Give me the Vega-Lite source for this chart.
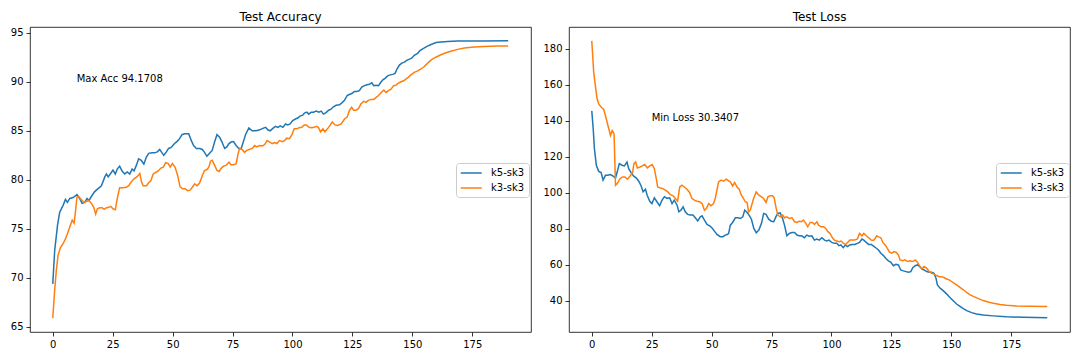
{
"$schema": "https://vega.github.io/schema/vega-lite/v6.json",
"background": "white",
"padding": {"left": 3, "top": 10, "right": 5, "bottom": 5},
"spacing": 10,
"datasets": {
"acc": [
{"s":"k5-sk3","e":0,"v":69.4},{"s":"k5-sk3","e":0.8,"v":72.8},{"s":"k5-sk3","e":2,"v":75.4},{"s":"k5-sk3","e":2.9,"v":76.7},{"s":"k5-sk3","e":4.3,"v":77.4},{"s":"k5-sk3","e":5.3,"v":78.0},{"s":"k5-sk3","e":6.1,"v":77.7},{"s":"k5-sk3","e":7.1,"v":78.1},{"s":"k5-sk3","e":8.5,"v":78.2},{"s":"k5-sk3","e":10.1,"v":78.5},{"s":"k5-sk3","e":11.2,"v":78.1},{"s":"k5-sk3","e":12.2,"v":77.6},{"s":"k5-sk3","e":13.3,"v":77.7},{"s":"k5-sk3","e":14.3,"v":78.1},{"s":"k5-sk3","e":15.1,"v":77.9},{"s":"k5-sk3","e":16.1,"v":78.3},{"s":"k5-sk3","e":17.5,"v":78.8},{"s":"k5-sk3","e":18.9,"v":79.1},{"s":"k5-sk3","e":20.3,"v":79.4},{"s":"k5-sk3","e":21.7,"v":80.3},{"s":"k5-sk3","e":22.4,"v":80.6},{"s":"k5-sk3","e":23.1,"v":80.3},{"s":"k5-sk3","e":24,"v":80.6},{"s":"k5-sk3","e":25.1,"v":81.0},{"s":"k5-sk3","e":26.1,"v":80.6},{"s":"k5-sk3","e":26.9,"v":81.1},{"s":"k5-sk3","e":27.9,"v":81.4},{"s":"k5-sk3","e":28.9,"v":80.9},{"s":"k5-sk3","e":30,"v":80.6},{"s":"k5-sk3","e":31.1,"v":80.8},{"s":"k5-sk3","e":32.1,"v":80.6},{"s":"k5-sk3","e":33.1,"v":81.1},{"s":"k5-sk3","e":33.9,"v":80.9},{"s":"k5-sk3","e":34.9,"v":81.5},{"s":"k5-sk3","e":35.8,"v":82.15},{"s":"k5-sk3","e":36.9,"v":82.0},{"s":"k5-sk3","e":38,"v":81.6},{"s":"k5-sk3","e":39,"v":82.3},{"s":"k5-sk3","e":40,"v":82.7},{"s":"k5-sk3","e":41.4,"v":82.75},{"s":"k5-sk3","e":42.5,"v":82.75},{"s":"k5-sk3","e":43.6,"v":82.85},{"s":"k5-sk3","e":44.6,"v":83.1},{"s":"k5-sk3","e":45.3,"v":82.85},{"s":"k5-sk3","e":46.3,"v":82.5},{"s":"k5-sk3","e":47.4,"v":82.85},{"s":"k5-sk3","e":48.3,"v":83.2},{"s":"k5-sk3","e":49.4,"v":83.3},{"s":"k5-sk3","e":50.8,"v":83.7},{"s":"k5-sk3","e":52,"v":83.95},{"s":"k5-sk3","e":52.9,"v":84.2},{"s":"k5-sk3","e":53.9,"v":84.6},{"s":"k5-sk3","e":55,"v":84.7},{"s":"k5-sk3","e":56.7,"v":84.7},{"s":"k5-sk3","e":57.8,"v":84.0},{"s":"k5-sk3","e":58.75,"v":83.5},{"s":"k5-sk3","e":59.9,"v":83.2},{"s":"k5-sk3","e":61.3,"v":83.2},{"s":"k5-sk3","e":62.4,"v":83.1},{"s":"k5-sk3","e":63.3,"v":82.8},{"s":"k5-sk3","e":64.3,"v":82.4},{"s":"k5-sk3","e":65.4,"v":82.7},{"s":"k5-sk3","e":66.5,"v":83.0},{"s":"k5-sk3","e":67.5,"v":83.85},{"s":"k5-sk3","e":68.5,"v":84.6},{"s":"k5-sk3","e":69.6,"v":84.35},{"s":"k5-sk3","e":70.6,"v":83.85},{"s":"k5-sk3","e":71.7,"v":83.2},{"s":"k5-sk3","e":72.6,"v":83.35},{"s":"k5-sk3","e":73.5,"v":83.7},{"s":"k5-sk3","e":74.4,"v":83.85},{"s":"k5-sk3","e":75.4,"v":83.9},{"s":"k5-sk3","e":76.5,"v":83.5},{"s":"k5-sk3","e":77.6,"v":83.2},{"s":"k5-sk3","e":78.6,"v":83.2},{"s":"k5-sk3","e":79.6,"v":83.95},{"s":"k5-sk3","e":80.4,"v":84.6},{"s":"k5-sk3","e":81.8,"v":85.3},{"s":"k5-sk3","e":83.2,"v":85.0},{"s":"k5-sk3","e":84.9,"v":85.0},{"s":"k5-sk3","e":86.3,"v":85.1},{"s":"k5-sk3","e":87.6,"v":85.25},{"s":"k5-sk3","e":88.8,"v":85.35},{"s":"k5-sk3","e":89.7,"v":85.1},{"s":"k5-sk3","e":90.7,"v":85.0},{"s":"k5-sk3","e":91.8,"v":85.25},{"s":"k5-sk3","e":92.9,"v":85.45},{"s":"k5-sk3","e":93.9,"v":85.35},{"s":"k5-sk3","e":94.9,"v":85.5},{"s":"k5-sk3","e":96,"v":85.35},{"s":"k5-sk3","e":97.1,"v":85.7},{"s":"k5-sk3","e":98,"v":85.6},{"s":"k5-sk3","e":99,"v":85.7},{"s":"k5-sk3","e":100.1,"v":86.05},{"s":"k5-sk3","e":101.2,"v":86.2},{"s":"k5-sk3","e":102.2,"v":86.3},{"s":"k5-sk3","e":103.1,"v":86.5},{"s":"k5-sk3","e":104.3,"v":86.6},{"s":"k5-sk3","e":105,"v":86.8},{"s":"k5-sk3","e":106,"v":86.9},{"s":"k5-sk3","e":106.8,"v":86.7},{"s":"k5-sk3","e":107.8,"v":86.9},{"s":"k5-sk3","e":108.8,"v":86.9},{"s":"k5-sk3","e":109.9,"v":87.0},{"s":"k5-sk3","e":111,"v":86.9},{"s":"k5-sk3","e":112,"v":87.0},{"s":"k5-sk3","e":112.9,"v":86.7},{"s":"k5-sk3","e":114,"v":86.85},{"s":"k5-sk3","e":115.1,"v":87.1},{"s":"k5-sk3","e":116.1,"v":87.2},{"s":"k5-sk3","e":117.1,"v":87.45},{"s":"k5-sk3","e":118.2,"v":87.6},{"s":"k5-sk3","e":119.6,"v":87.65},{"s":"k5-sk3","e":120.6,"v":87.85},{"s":"k5-sk3","e":121.7,"v":88.1},{"s":"k5-sk3","e":122.8,"v":88.6},{"s":"k5-sk3","e":123.7,"v":88.7},{"s":"k5-sk3","e":124.7,"v":88.8},{"s":"k5-sk3","e":125.8,"v":89.0},{"s":"k5-sk3","e":126.9,"v":89.0},{"s":"k5-sk3","e":127.9,"v":89.1},{"s":"k5-sk3","e":128.9,"v":89.45},{"s":"k5-sk3","e":130,"v":89.6},{"s":"k5-sk3","e":131.1,"v":89.7},{"s":"k5-sk3","e":132.1,"v":89.75},{"s":"k5-sk3","e":133.1,"v":89.9},{"s":"k5-sk3","e":133.9,"v":89.6},{"s":"k5-sk3","e":134.9,"v":89.65},{"s":"k5-sk3","e":135.9,"v":89.6},{"s":"k5-sk3","e":136.7,"v":89.9},{"s":"k5-sk3","e":137.7,"v":90.2},{"s":"k5-sk3","e":138.6,"v":90.35},{"s":"k5-sk3","e":139.7,"v":90.6},{"s":"k5-sk3","e":140.8,"v":90.7},{"s":"k5-sk3","e":141.8,"v":90.75},{"s":"k5-sk3","e":142.8,"v":90.85},{"s":"k5-sk3","e":143.6,"v":91.3},{"s":"k5-sk3","e":144.6,"v":91.7},{"s":"k5-sk3","e":145.6,"v":91.9},{"s":"k5-sk3","e":146.7,"v":92.0},{"s":"k5-sk3","e":147.8,"v":92.2},{"s":"k5-sk3","e":148.8,"v":92.3},{"s":"k5-sk3","e":149.7,"v":92.4},{"s":"k5-sk3","e":150.8,"v":92.7},{"s":"k5-sk3","e":152.2,"v":92.9},{"s":"k5-sk3","e":153.3,"v":93.2},{"s":"k5-sk3","e":154.7,"v":93.4},{"s":"k5-sk3","e":156.1,"v":93.6},{"s":"k5-sk3","e":157.8,"v":93.8},{"s":"k5-sk3","e":159.9,"v":94.0},{"s":"k5-sk3","e":162,"v":94.05},{"s":"k5-sk3","e":164.7,"v":94.1},{"s":"k5-sk3","e":168.9,"v":94.15},{"s":"k5-sk3","e":173,"v":94.15},{"s":"k5-sk3","e":180,"v":94.15},{"s":"k5-sk3","e":190,"v":94.17},
{"s":"k3-sk3","e":0,"v":65.9},{"s":"k3-sk3","e":0.8,"v":68.8},{"s":"k3-sk3","e":1.5,"v":70.8},{"s":"k3-sk3","e":2.2,"v":72.3},{"s":"k3-sk3","e":3.2,"v":73.1},{"s":"k3-sk3","e":4.3,"v":73.5},{"s":"k3-sk3","e":5.3,"v":74.0},{"s":"k3-sk3","e":6.1,"v":74.5},{"s":"k3-sk3","e":7.1,"v":75.2},{"s":"k3-sk3","e":8.1,"v":75.9},{"s":"k3-sk3","e":8.9,"v":75.6},{"s":"k3-sk3","e":9.4,"v":76.6},{"s":"k3-sk3","e":10.1,"v":78.25},{"s":"k3-sk3","e":10.8,"v":78.3},{"s":"k3-sk3","e":11.9,"v":78.0},{"s":"k3-sk3","e":13.1,"v":77.7},{"s":"k3-sk3","e":14,"v":77.8},{"s":"k3-sk3","e":15.1,"v":77.9},{"s":"k3-sk3","e":16.1,"v":77.6},{"s":"k3-sk3","e":17.1,"v":77.2},{"s":"k3-sk3","e":17.9,"v":76.5},{"s":"k3-sk3","e":18.6,"v":77.05},{"s":"k3-sk3","e":19.6,"v":77.15},{"s":"k3-sk3","e":20.6,"v":77.15},{"s":"k3-sk3","e":21.4,"v":77.0},{"s":"k3-sk3","e":22.4,"v":77.15},{"s":"k3-sk3","e":23.4,"v":77.2},{"s":"k3-sk3","e":24.2,"v":77.3},{"s":"k3-sk3","e":25.1,"v":77.05},{"s":"k3-sk3","e":26.1,"v":76.95},{"s":"k3-sk3","e":26.9,"v":78.1},{"s":"k3-sk3","e":27.9,"v":79.2},{"s":"k3-sk3","e":29.3,"v":79.2},{"s":"k3-sk3","e":30.7,"v":79.25},{"s":"k3-sk3","e":31.7,"v":79.4},{"s":"k3-sk3","e":32.8,"v":79.8},{"s":"k3-sk3","e":33.9,"v":80.1},{"s":"k3-sk3","e":35.3,"v":80.35},{"s":"k3-sk3","e":36.3,"v":80.65},{"s":"k3-sk3","e":37,"v":79.8},{"s":"k3-sk3","e":37.7,"v":79.4},{"s":"k3-sk3","e":39.1,"v":79.4},{"s":"k3-sk3","e":40,"v":79.7},{"s":"k3-sk3","e":40.9,"v":79.9},{"s":"k3-sk3","e":41.9,"v":80.6},{"s":"k3-sk3","e":42.9,"v":80.75},{"s":"k3-sk3","e":44,"v":80.9},{"s":"k3-sk3","e":45.1,"v":81.2},{"s":"k3-sk3","e":46.1,"v":81.3},{"s":"k3-sk3","e":47.1,"v":81.75},{"s":"k3-sk3","e":48.2,"v":81.65},{"s":"k3-sk3","e":49,"v":81.3},{"s":"k3-sk3","e":49.9,"v":81.65},{"s":"k3-sk3","e":51,"v":81.3},{"s":"k3-sk3","e":52.1,"v":80.45},{"s":"k3-sk3","e":53.1,"v":79.3},{"s":"k3-sk3","e":54.1,"v":79.1},{"s":"k3-sk3","e":55.2,"v":79.1},{"s":"k3-sk3","e":56.3,"v":78.9},{"s":"k3-sk3","e":57.3,"v":78.95},{"s":"k3-sk3","e":58.2,"v":79.25},{"s":"k3-sk3","e":59.2,"v":79.6},{"s":"k3-sk3","e":60.2,"v":79.4},{"s":"k3-sk3","e":61.3,"v":79.7},{"s":"k3-sk3","e":62.4,"v":80.45},{"s":"k3-sk3","e":63.3,"v":80.95},{"s":"k3-sk3","e":64.3,"v":81.05},{"s":"k3-sk3","e":65.1,"v":81.3},{"s":"k3-sk3","e":65.8,"v":81.9},{"s":"k3-sk3","e":66.5,"v":82.0},{"s":"k3-sk3","e":67.5,"v":81.5},{"s":"k3-sk3","e":68.5,"v":80.95},{"s":"k3-sk3","e":69.4,"v":80.85},{"s":"k3-sk3","e":70.3,"v":81.2},{"s":"k3-sk3","e":71.3,"v":81.4},{"s":"k3-sk3","e":72.4,"v":81.5},{"s":"k3-sk3","e":73.5,"v":81.8},{"s":"k3-sk3","e":74.4,"v":81.55},{"s":"k3-sk3","e":75.4,"v":81.55},{"s":"k3-sk3","e":76.5,"v":81.65},{"s":"k3-sk3","e":77.3,"v":82.65},{"s":"k3-sk3","e":77.9,"v":83.2},{"s":"k3-sk3","e":79,"v":83.1},{"s":"k3-sk3","e":80,"v":82.8},{"s":"k3-sk3","e":80.9,"v":83.0},{"s":"k3-sk3","e":82,"v":83.1},{"s":"k3-sk3","e":83.2,"v":83.2},{"s":"k3-sk3","e":84.2,"v":83.5},{"s":"k3-sk3","e":85.1,"v":83.35},{"s":"k3-sk3","e":86.3,"v":83.5},{"s":"k3-sk3","e":87.4,"v":83.45},{"s":"k3-sk3","e":88.4,"v":83.6},{"s":"k3-sk3","e":89.4,"v":84.0},{"s":"k3-sk3","e":90.5,"v":83.85},{"s":"k3-sk3","e":91.6,"v":83.7},{"s":"k3-sk3","e":92.5,"v":83.8},{"s":"k3-sk3","e":93.5,"v":83.7},{"s":"k3-sk3","e":94.6,"v":84.0},{"s":"k3-sk3","e":95.7,"v":83.9},{"s":"k3-sk3","e":96.7,"v":84.0},{"s":"k3-sk3","e":97.6,"v":84.25},{"s":"k3-sk3","e":98.7,"v":84.2},{"s":"k3-sk3","e":99.8,"v":84.6},{"s":"k3-sk3","e":100.7,"v":85.2},{"s":"k3-sk3","e":101.7,"v":85.2},{"s":"k3-sk3","e":102.8,"v":85.3},{"s":"k3-sk3","e":103.9,"v":85.35},{"s":"k3-sk3","e":104.9,"v":85.6},{"s":"k3-sk3","e":105.8,"v":85.6},{"s":"k3-sk3","e":106.9,"v":85.35},{"s":"k3-sk3","e":108,"v":85.3},{"s":"k3-sk3","e":109,"v":85.35},{"s":"k3-sk3","e":110,"v":85.45},{"s":"k3-sk3","e":110.8,"v":85.35},{"s":"k3-sk3","e":111.7,"v":84.9},{"s":"k3-sk3","e":112.7,"v":85.2},{"s":"k3-sk3","e":113.5,"v":84.9},{"s":"k3-sk3","e":114.6,"v":85.2},{"s":"k3-sk3","e":115.5,"v":85.5},{"s":"k3-sk3","e":116.6,"v":85.9},{"s":"k3-sk3","e":117.7,"v":85.6},{"s":"k3-sk3","e":118.9,"v":85.55},{"s":"k3-sk3","e":120.3,"v":85.7},{"s":"k3-sk3","e":121.7,"v":86.2},{"s":"k3-sk3","e":122.8,"v":86.4},{"s":"k3-sk3","e":123.8,"v":87.1},{"s":"k3-sk3","e":124.7,"v":87.4},{"s":"k3-sk3","e":125.5,"v":87.1},{"s":"k3-sk3","e":126.5,"v":87.1},{"s":"k3-sk3","e":127.5,"v":87.25},{"s":"k3-sk3","e":128.6,"v":87.75},{"s":"k3-sk3","e":129.7,"v":88.0},{"s":"k3-sk3","e":130.7,"v":87.9},{"s":"k3-sk3","e":131.6,"v":88.1},{"s":"k3-sk3","e":132.8,"v":88.2},{"s":"k3-sk3","e":133.9,"v":88.2},{"s":"k3-sk3","e":134.9,"v":88.4},{"s":"k3-sk3","e":135.9,"v":88.6},{"s":"k3-sk3","e":137,"v":88.9},{"s":"k3-sk3","e":138.1,"v":89.15},{"s":"k3-sk3","e":139,"v":88.9},{"s":"k3-sk3","e":140,"v":89.1},{"s":"k3-sk3","e":141.1,"v":89.25},{"s":"k3-sk3","e":142.2,"v":89.6},{"s":"k3-sk3","e":143.2,"v":89.65},{"s":"k3-sk3","e":144.2,"v":89.85},{"s":"k3-sk3","e":145.3,"v":90.0},{"s":"k3-sk3","e":146.4,"v":90.1},{"s":"k3-sk3","e":147.4,"v":90.3},{"s":"k3-sk3","e":148.3,"v":90.45},{"s":"k3-sk3","e":149.4,"v":90.7},{"s":"k3-sk3","e":150.8,"v":90.95},{"s":"k3-sk3","e":152.2,"v":91.1},{"s":"k3-sk3","e":153.6,"v":91.3},{"s":"k3-sk3","e":155,"v":91.55},{"s":"k3-sk3","e":156.4,"v":91.9},{"s":"k3-sk3","e":158,"v":92.25},{"s":"k3-sk3","e":159.8,"v":92.5},{"s":"k3-sk3","e":161.9,"v":92.75},{"s":"k3-sk3","e":164,"v":92.95},{"s":"k3-sk3","e":166,"v":93.1},{"s":"k3-sk3","e":168.9,"v":93.3},{"s":"k3-sk3","e":171.7,"v":93.45},{"s":"k3-sk3","e":175.8,"v":93.55},{"s":"k3-sk3","e":180,"v":93.6},{"s":"k3-sk3","e":185.6,"v":93.65},{"s":"k3-sk3","e":190,"v":93.65}
],
"loss": [
{"s":"k5-sk3","e":0,"v":145.5},{"s":"k5-sk3","e":0.6,"v":135.6},{"s":"k5-sk3","e":1.1,"v":124.5},{"s":"k5-sk3","e":1.9,"v":115.3},{"s":"k5-sk3","e":2.9,"v":111.9},{"s":"k5-sk3","e":3.9,"v":111.2},{"s":"k5-sk3","e":4.7,"v":107.0},{"s":"k5-sk3","e":5.7,"v":109.7},{"s":"k5-sk3","e":6.7,"v":109.7},{"s":"k5-sk3","e":7.8,"v":110.1},{"s":"k5-sk3","e":8.9,"v":109.2},{"s":"k5-sk3","e":9.9,"v":108.2},{"s":"k5-sk3","e":10.6,"v":111.5},{"s":"k5-sk3","e":11.5,"v":116.2},{"s":"k5-sk3","e":12.6,"v":115.3},{"s":"k5-sk3","e":13.6,"v":114.9},{"s":"k5-sk3","e":14.7,"v":117.1},{"s":"k5-sk3","e":15.4,"v":113.4},{"s":"k5-sk3","e":16.4,"v":111.2},{"s":"k5-sk3","e":17.5,"v":109.2},{"s":"k5-sk3","e":18.6,"v":108.2},{"s":"k5-sk3","e":19.6,"v":106.4},{"s":"k5-sk3","e":20.6,"v":103.8},{"s":"k5-sk3","e":21.4,"v":100.5},{"s":"k5-sk3","e":22.4,"v":102.0},{"s":"k5-sk3","e":23.1,"v":98.65},{"s":"k5-sk3","e":24.2,"v":95.3},{"s":"k5-sk3","e":25.1,"v":94.0},{"s":"k5-sk3","e":26.1,"v":97.2},{"s":"k5-sk3","e":27.2,"v":95.0},{"s":"k5-sk3","e":28.3,"v":92.8},{"s":"k5-sk3","e":29.3,"v":95.9},{"s":"k5-sk3","e":30.3,"v":97.8},{"s":"k5-sk3","e":31.4,"v":96.9},{"s":"k5-sk3","e":32.5,"v":97.2},{"s":"k5-sk3","e":33.5,"v":94.0},{"s":"k5-sk3","e":34.4,"v":95.9},{"s":"k5-sk3","e":35.6,"v":93.1},{"s":"k5-sk3","e":36.3,"v":89.4},{"s":"k5-sk3","e":37.2,"v":90.3},{"s":"k5-sk3","e":38.1,"v":92.2},{"s":"k5-sk3","e":39,"v":89.4},{"s":"k5-sk3","e":40,"v":88.0},{"s":"k5-sk3","e":41.1,"v":87.6},{"s":"k5-sk3","e":42.2,"v":87.6},{"s":"k5-sk3","e":43.2,"v":86.1},{"s":"k5-sk3","e":44.2,"v":84.3},{"s":"k5-sk3","e":45.3,"v":86.6},{"s":"k5-sk3","e":46,"v":87.2},{"s":"k5-sk3","e":47,"v":84.8},{"s":"k5-sk3","e":48.1,"v":82.4},{"s":"k5-sk3","e":49.2,"v":81.6},{"s":"k5-sk3","e":50.1,"v":80.6},{"s":"k5-sk3","e":51.1,"v":78.8},{"s":"k5-sk3","e":52.2,"v":76.9},{"s":"k5-sk3","e":53.6,"v":75.6},{"s":"k5-sk3","e":54.7,"v":75.6},{"s":"k5-sk3","e":55.7,"v":76.5},{"s":"k5-sk3","e":56.7,"v":76.9},{"s":"k5-sk3","e":57.1,"v":77.4},{"s":"k5-sk3","e":57.8,"v":82.0},{"s":"k5-sk3","e":58.75,"v":83.5},{"s":"k5-sk3","e":59.9,"v":86.1},{"s":"k5-sk3","e":61,"v":86.1},{"s":"k5-sk3","e":62,"v":85.7},{"s":"k5-sk3","e":63,"v":86.6},{"s":"k5-sk3","e":63.8,"v":90.35},{"s":"k5-sk3","e":64.8,"v":89.0},{"s":"k5-sk3","e":65.8,"v":87.2},{"s":"k5-sk3","e":66.6,"v":85.3},{"s":"k5-sk3","e":67.6,"v":80.2},{"s":"k5-sk3","e":68.6,"v":77.8},{"s":"k5-sk3","e":69.7,"v":79.3},{"s":"k5-sk3","e":70.8,"v":83.0},{"s":"k5-sk3","e":71.7,"v":88.5},{"s":"k5-sk3","e":72.7,"v":88.0},{"s":"k5-sk3","e":73.8,"v":85.3},{"s":"k5-sk3","e":74.9,"v":84.2},{"s":"k5-sk3","e":75.9,"v":83.9},{"s":"k5-sk3","e":76.8,"v":86.6},{"s":"k5-sk3","e":77.6,"v":88.5},{"s":"k5-sk3","e":78.6,"v":88.8},{"s":"k5-sk3","e":79.6,"v":85.7},{"s":"k5-sk3","e":80.4,"v":82.0},{"s":"k5-sk3","e":81.4,"v":76.1},{"s":"k5-sk3","e":82.4,"v":77.4},{"s":"k5-sk3","e":83.5,"v":77.9},{"s":"k5-sk3","e":84.6,"v":77.9},{"s":"k5-sk3","e":85.6,"v":76.5},{"s":"k5-sk3","e":86.5,"v":76.1},{"s":"k5-sk3","e":87.6,"v":76.1},{"s":"k5-sk3","e":88.7,"v":75.0},{"s":"k5-sk3","e":89.7,"v":76.5},{"s":"k5-sk3","e":90.7,"v":75.9},{"s":"k5-sk3","e":91.8,"v":76.1},{"s":"k5-sk3","e":92.9,"v":73.7},{"s":"k5-sk3","e":93.9,"v":74.3},{"s":"k5-sk3","e":94.9,"v":73.7},{"s":"k5-sk3","e":96,"v":75.0},{"s":"k5-sk3","e":97.1,"v":73.7},{"s":"k5-sk3","e":98,"v":73.2},{"s":"k5-sk3","e":99,"v":73.7},{"s":"k5-sk3","e":100.1,"v":72.4},{"s":"k5-sk3","e":101.2,"v":71.9},{"s":"k5-sk3","e":102.2,"v":71.9},{"s":"k5-sk3","e":103.1,"v":70.6},{"s":"k5-sk3","e":103.9,"v":71.0},{"s":"k5-sk3","e":104.9,"v":69.5},{"s":"k5-sk3","e":105.8,"v":71.0},{"s":"k5-sk3","e":106.7,"v":70.1},{"s":"k5-sk3","e":107.6,"v":71.0},{"s":"k5-sk3","e":108.6,"v":71.3},{"s":"k5-sk3","e":109.7,"v":71.3},{"s":"k5-sk3","e":110.8,"v":71.9},{"s":"k5-sk3","e":111.7,"v":72.4},{"s":"k5-sk3","e":112.7,"v":74.3},{"s":"k5-sk3","e":113.5,"v":73.7},{"s":"k5-sk3","e":114.5,"v":72.4},{"s":"k5-sk3","e":115.5,"v":71.3},{"s":"k5-sk3","e":116.6,"v":71.3},{"s":"k5-sk3","e":117.5,"v":70.4},{"s":"k5-sk3","e":118.6,"v":69.3},{"s":"k5-sk3","e":119.6,"v":68.2},{"s":"k5-sk3","e":120.6,"v":66.4},{"s":"k5-sk3","e":121.7,"v":65.1},{"s":"k5-sk3","e":122.8,"v":63.3},{"s":"k5-sk3","e":123.75,"v":62.2},{"s":"k5-sk3","e":124.7,"v":61.5},{"s":"k5-sk3","e":125.8,"v":59.5},{"s":"k5-sk3","e":126.9,"v":60.3},{"s":"k5-sk3","e":127.9,"v":59.9},{"s":"k5-sk3","e":128.9,"v":57.1},{"s":"k5-sk3","e":130,"v":56.6},{"s":"k5-sk3","e":131.1,"v":56.2},{"s":"k5-sk3","e":132.1,"v":55.8},{"s":"k5-sk3","e":133.1,"v":56.2},{"s":"k5-sk3","e":133.9,"v":58.4},{"s":"k5-sk3","e":134.9,"v":59.5},{"s":"k5-sk3","e":135.9,"v":59.9},{"s":"k5-sk3","e":136.8,"v":59.0},{"s":"k5-sk3","e":137.7,"v":57.7},{"s":"k5-sk3","e":138.6,"v":57.1},{"s":"k5-sk3","e":139.7,"v":56.2},{"s":"k5-sk3","e":140.8,"v":55.8},{"s":"k5-sk3","e":141.8,"v":55.8},{"s":"k5-sk3","e":142.8,"v":55.3},{"s":"k5-sk3","e":143.6,"v":52.5},{"s":"k5-sk3","e":144.2,"v":48.8},{"s":"k5-sk3","e":145.3,"v":47.0},{"s":"k5-sk3","e":146.7,"v":45.5},{"s":"k5-sk3","e":148.1,"v":43.7},{"s":"k5-sk3","e":149.4,"v":41.8},{"s":"k5-sk3","e":150.8,"v":40.0},{"s":"k5-sk3","e":152.2,"v":38.2},{"s":"k5-sk3","e":153.6,"v":36.9},{"s":"k5-sk3","e":155,"v":35.6},{"s":"k5-sk3","e":156.4,"v":34.5},{"s":"k5-sk3","e":158.5,"v":33.4},{"s":"k5-sk3","e":160.5,"v":32.7},{"s":"k5-sk3","e":163.3,"v":32.1},{"s":"k5-sk3","e":167.5,"v":31.6},{"s":"k5-sk3","e":173,"v":31.1},{"s":"k5-sk3","e":180,"v":30.8},{"s":"k5-sk3","e":190,"v":30.5},
{"s":"k3-sk3","e":0,"v":184.4},{"s":"k3-sk3","e":0.4,"v":176.0},{"s":"k3-sk3","e":0.8,"v":166.9},{"s":"k3-sk3","e":1.5,"v":159.5},{"s":"k3-sk3","e":2.2,"v":152.2},{"s":"k3-sk3","e":2.9,"v":149.4},{"s":"k3-sk3","e":3.9,"v":147.6},{"s":"k3-sk3","e":5,"v":146.3},{"s":"k3-sk3","e":5.7,"v":142.9},{"s":"k3-sk3","e":6.4,"v":139.2},{"s":"k3-sk3","e":7.1,"v":135.6},{"s":"k3-sk3","e":7.8,"v":131.9},{"s":"k3-sk3","e":8.5,"v":134.6},{"s":"k3-sk3","e":9.3,"v":132.8},{"s":"k3-sk3","e":9.9,"v":104.2},{"s":"k3-sk3","e":10.6,"v":105.1},{"s":"k3-sk3","e":11.8,"v":107.8},{"s":"k3-sk3","e":12.8,"v":108.8},{"s":"k3-sk3","e":13.8,"v":108.8},{"s":"k3-sk3","e":14.9,"v":107.5},{"s":"k3-sk3","e":16,"v":109.3},{"s":"k3-sk3","e":17,"v":111.2},{"s":"k3-sk3","e":17.6,"v":116.2},{"s":"k3-sk3","e":18.3,"v":117.1},{"s":"k3-sk3","e":19,"v":113.8},{"s":"k3-sk3","e":20.1,"v":114.3},{"s":"k3-sk3","e":21.1,"v":114.9},{"s":"k3-sk3","e":22.1,"v":115.7},{"s":"k3-sk3","e":23.2,"v":113.8},{"s":"k3-sk3","e":24.2,"v":114.9},{"s":"k3-sk3","e":25.2,"v":115.7},{"s":"k3-sk3","e":26.1,"v":113.4},{"s":"k3-sk3","e":26.9,"v":107.9},{"s":"k3-sk3","e":27.5,"v":103.2},{"s":"k3-sk3","e":28.6,"v":102.6},{"s":"k3-sk3","e":29.7,"v":102.3},{"s":"k3-sk3","e":30.7,"v":101.4},{"s":"k3-sk3","e":31.7,"v":100.5},{"s":"k3-sk3","e":32.8,"v":99.0},{"s":"k3-sk3","e":33.9,"v":98.3},{"s":"k3-sk3","e":34.9,"v":96.8},{"s":"k3-sk3","e":35.8,"v":95.3},{"s":"k3-sk3","e":36.7,"v":103.2},{"s":"k3-sk3","e":37.6,"v":104.2},{"s":"k3-sk3","e":38.6,"v":103.2},{"s":"k3-sk3","e":39.7,"v":102.0},{"s":"k3-sk3","e":40.8,"v":100.2},{"s":"k3-sk3","e":41.8,"v":96.8},{"s":"k3-sk3","e":42.8,"v":95.9},{"s":"k3-sk3","e":43.9,"v":95.3},{"s":"k3-sk3","e":45,"v":95.0},{"s":"k3-sk3","e":46,"v":94.0},{"s":"k3-sk3","e":47,"v":90.3},{"s":"k3-sk3","e":47.8,"v":91.2},{"s":"k3-sk3","e":48.8,"v":94.0},{"s":"k3-sk3","e":49.7,"v":92.8},{"s":"k3-sk3","e":50.8,"v":94.0},{"s":"k3-sk3","e":51.5,"v":96.8},{"s":"k3-sk3","e":52.2,"v":101.4},{"s":"k3-sk3","e":52.9,"v":106.0},{"s":"k3-sk3","e":53.9,"v":107.0},{"s":"k3-sk3","e":55,"v":106.4},{"s":"k3-sk3","e":56.1,"v":107.5},{"s":"k3-sk3","e":57.1,"v":106.6},{"s":"k3-sk3","e":57.8,"v":106.1},{"s":"k3-sk3","e":58.75,"v":103.8},{"s":"k3-sk3","e":59.6,"v":105.7},{"s":"k3-sk3","e":60.6,"v":103.2},{"s":"k3-sk3","e":61.5,"v":102.0},{"s":"k3-sk3","e":62.4,"v":98.65},{"s":"k3-sk3","e":63.3,"v":96.8},{"s":"k3-sk3","e":64,"v":95.0},{"s":"k3-sk3","e":64.8,"v":94.6},{"s":"k3-sk3","e":65.4,"v":89.4},{"s":"k3-sk3","e":66.1,"v":90.3},{"s":"k3-sk3","e":66.8,"v":93.5},{"s":"k3-sk3","e":67.5,"v":96.8},{"s":"k3-sk3","e":68.6,"v":100.5},{"s":"k3-sk3","e":69.7,"v":98.65},{"s":"k3-sk3","e":70.8,"v":97.7},{"s":"k3-sk3","e":71.7,"v":96.8},{"s":"k3-sk3","e":72.7,"v":94.6},{"s":"k3-sk3","e":73.5,"v":97.7},{"s":"k3-sk3","e":74.4,"v":98.3},{"s":"k3-sk3","e":75.4,"v":98.3},{"s":"k3-sk3","e":76.1,"v":97.2},{"s":"k3-sk3","e":76.8,"v":92.2},{"s":"k3-sk3","e":77.6,"v":87.6},{"s":"k3-sk3","e":78.6,"v":86.6},{"s":"k3-sk3","e":79.6,"v":87.6},{"s":"k3-sk3","e":80.4,"v":86.1},{"s":"k3-sk3","e":81.4,"v":86.6},{"s":"k3-sk3","e":82.4,"v":85.7},{"s":"k3-sk3","e":83.5,"v":86.1},{"s":"k3-sk3","e":84.6,"v":83.9},{"s":"k3-sk3","e":85.6,"v":83.5},{"s":"k3-sk3","e":86.5,"v":84.2},{"s":"k3-sk3","e":87.4,"v":83.9},{"s":"k3-sk3","e":88.3,"v":84.8},{"s":"k3-sk3","e":89.3,"v":83.0},{"s":"k3-sk3","e":90.1,"v":81.1},{"s":"k3-sk3","e":91.1,"v":83.5},{"s":"k3-sk3","e":92.1,"v":83.5},{"s":"k3-sk3","e":92.9,"v":82.4},{"s":"k3-sk3","e":93.9,"v":83.9},{"s":"k3-sk3","e":94.6,"v":82.0},{"s":"k3-sk3","e":95.7,"v":81.1},{"s":"k3-sk3","e":96.7,"v":81.1},{"s":"k3-sk3","e":97.6,"v":80.2},{"s":"k3-sk3","e":98.5,"v":78.4},{"s":"k3-sk3","e":99.4,"v":77.4},{"s":"k3-sk3","e":100.4,"v":75.0},{"s":"k3-sk3","e":101.2,"v":73.7},{"s":"k3-sk3","e":102.2,"v":73.2},{"s":"k3-sk3","e":103.2,"v":72.8},{"s":"k3-sk3","e":104,"v":73.2},{"s":"k3-sk3","e":105,"v":71.9},{"s":"k3-sk3","e":105.9,"v":71.3},{"s":"k3-sk3","e":106.7,"v":72.4},{"s":"k3-sk3","e":107.7,"v":73.7},{"s":"k3-sk3","e":108.6,"v":73.7},{"s":"k3-sk3","e":109.7,"v":73.7},{"s":"k3-sk3","e":110.8,"v":74.3},{"s":"k3-sk3","e":111.7,"v":77.4},{"s":"k3-sk3","e":112.7,"v":76.1},{"s":"k3-sk3","e":113.5,"v":77.4},{"s":"k3-sk3","e":114.5,"v":76.1},{"s":"k3-sk3","e":115.5,"v":75.0},{"s":"k3-sk3","e":116.6,"v":73.7},{"s":"k3-sk3","e":117.5,"v":73.5},{"s":"k3-sk3","e":118.2,"v":74.6},{"s":"k3-sk3","e":118.9,"v":76.1},{"s":"k3-sk3","e":119.6,"v":75.5},{"s":"k3-sk3","e":120.6,"v":75.0},{"s":"k3-sk3","e":121.4,"v":72.4},{"s":"k3-sk3","e":122.4,"v":71.0},{"s":"k3-sk3","e":123.3,"v":69.1},{"s":"k3-sk3","e":124.2,"v":67.0},{"s":"k3-sk3","e":125.1,"v":66.4},{"s":"k3-sk3","e":126.1,"v":67.3},{"s":"k3-sk3","e":126.9,"v":67.0},{"s":"k3-sk3","e":127.9,"v":65.5},{"s":"k3-sk3","e":128.6,"v":62.7},{"s":"k3-sk3","e":129.7,"v":62.2},{"s":"k3-sk3","e":130.7,"v":62.7},{"s":"k3-sk3","e":131.7,"v":61.8},{"s":"k3-sk3","e":132.8,"v":62.2},{"s":"k3-sk3","e":133.9,"v":61.8},{"s":"k3-sk3","e":134.9,"v":62.7},{"s":"k3-sk3","e":135.8,"v":61.5},{"s":"k3-sk3","e":136.7,"v":59.5},{"s":"k3-sk3","e":137.7,"v":57.7},{"s":"k3-sk3","e":138.6,"v":59.0},{"s":"k3-sk3","e":139.7,"v":58.1},{"s":"k3-sk3","e":140.8,"v":56.2},{"s":"k3-sk3","e":141.8,"v":55.3},{"s":"k3-sk3","e":142.8,"v":54.8},{"s":"k3-sk3","e":143.9,"v":54.0},{"s":"k3-sk3","e":145,"v":53.4},{"s":"k3-sk3","e":145.9,"v":53.4},{"s":"k3-sk3","e":146.9,"v":52.9},{"s":"k3-sk3","e":148,"v":52.1},{"s":"k3-sk3","e":149.1,"v":51.6},{"s":"k3-sk3","e":150.1,"v":50.7},{"s":"k3-sk3","e":151.1,"v":49.8},{"s":"k3-sk3","e":152.2,"v":48.8},{"s":"k3-sk3","e":153.6,"v":47.4},{"s":"k3-sk3","e":155,"v":46.1},{"s":"k3-sk3","e":156.4,"v":44.6},{"s":"k3-sk3","e":157.8,"v":43.3},{"s":"k3-sk3","e":159.2,"v":42.4},{"s":"k3-sk3","e":161.3,"v":41.2},{"s":"k3-sk3","e":163.3,"v":40.1},{"s":"k3-sk3","e":165.4,"v":39.3},{"s":"k3-sk3","e":167.5,"v":38.6},{"s":"k3-sk3","e":170.3,"v":37.9},{"s":"k3-sk3","e":173,"v":37.5},{"s":"k3-sk3","e":177.2,"v":37.1},{"s":"k3-sk3","e":182.8,"v":36.9},{"s":"k3-sk3","e":190,"v":36.8}
]
},
"hconcat": [
{
"width": 501, "height": 305,
"title": "Test Accuracy",
"layer": [
{"data": {"name": "acc"},
 "mark": {"type": "line", "strokeWidth": 1.5},
 "encoding": {
  "x": {"field": "e", "type": "quantitative", "scale": {"domain": [-9.5, 199.5], "nice": false, "zero": false}, "axis": {"values": [0,25,50,75,100,125,150,175], "title": null}},
  "y": {"field": "v", "type": "quantitative", "scale": {"domain": [64.49, 95.58], "nice": false, "zero": false}, "axis": {"values": [65,70,75,80,85,90,95], "title": null}},
  "color": {"field": "s", "type": "nominal", "scale": {"domain": ["k5-sk3","k3-sk3"], "range": ["#1f77b4","#ff7f0e"]}, "legend": {"title": null, "orient": "none", "legendX": 426, "legendY": 136}}
 }},
{"data": {"values": [{"e": 10, "v": 90, "t": "Max Acc 94.1708"}]},
 "mark": {"type": "text", "align": "left", "baseline": "alphabetic", "fontSize": 10, "font": "DejaVu Sans", "color": "#000"},
 "encoding": {"x": {"field": "e", "type": "quantitative"}, "y": {"field": "v", "type": "quantitative"}, "text": {"field": "t"}}}
]
},
{
"width": 501, "height": 305,
"title": "Test Loss",
"layer": [
{"data": {"name": "loss"},
 "mark": {"type": "line", "strokeWidth": 1.5},
 "encoding": {
  "x": {"field": "e", "type": "quantitative", "scale": {"domain": [-9.5, 199.5], "nice": false, "zero": false}, "axis": {"values": [0,25,50,75,100,125,150,175], "title": null}},
  "y": {"field": "v", "type": "quantitative", "scale": {"domain": [22.64, 192.1], "nice": false, "zero": false}, "axis": {"values": [40,60,80,100,120,140,160,180], "title": null}},
  "color": {"field": "s", "type": "nominal", "scale": {"domain": ["k5-sk3","k3-sk3"], "range": ["#1f77b4","#ff7f0e"]}, "legend": {"title": null, "orient": "none", "legendX": 427, "legendY": 136}}
 }},
{"data": {"values": [{"e": 25, "v": 140, "t": "Min Loss 30.3407"}]},
 "mark": {"type": "text", "align": "left", "baseline": "alphabetic", "fontSize": 10, "font": "DejaVu Sans", "color": "#000"},
 "encoding": {"x": {"field": "e", "type": "quantitative"}, "y": {"field": "v", "type": "quantitative"}, "text": {"field": "t"}}}
]
}
],
"resolve": {"scale": {"color": "independent"}, "legend": {"color": "independent"}},
"config": {
 "font": "DejaVu Sans",
 "view": {"stroke": "#000", "strokeWidth": 0.8},
 "axis": {"grid": false, "domain": false, "labelFont": "DejaVu Sans", "labelFontSize": 10, "labelColor": "#000", "tickColor": "#000", "tickSize": 4, "tickWidth": 0.8, "labelPadding": 3},
 "axisY": {"minExtent": 26, "maxExtent": 26},
 "title": {"font": "DejaVu Sans", "fontSize": 12, "fontWeight": "normal", "color": "#000", "offset": 3},
 "legend": {"strokeColor": "#cccccc", "fillColor": "white", "padding": 4, "cornerRadius": 3, "labelFont": "DejaVu Sans", "labelFontSize": 10, "labelColor": "#000", "symbolType": "M-1,0H3", "symbolStrokeWidth": 1.5, "symbolSize": 110, "labelOffset": 19, "rowPadding": 4}
}
}
